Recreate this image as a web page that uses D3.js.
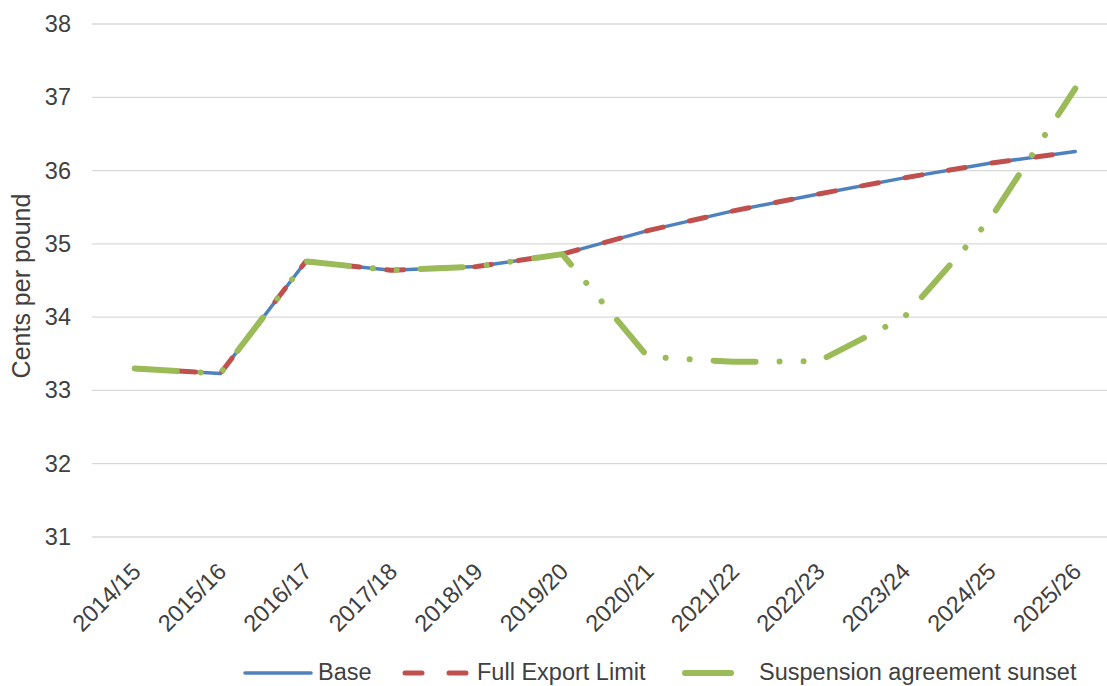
<!DOCTYPE html>
<html>
<head>
<meta charset="utf-8">
<script src="https://cdn.jsdelivr.net/npm/d3@7"></script>
<style>
  html, body { margin: 0; padding: 0; background: #fff; }
  svg text { font-family: "Liberation Sans", Arial, sans-serif; fill: #404040; }
</style>
</head>
<body>
<svg id="chart" width="1107" height="686"></svg>
<script>
// Marketing years on the category axis
const years = ["2014/15", "2015/16", "2016/17", "2017/18", "2018/19", "2019/20",
               "2020/21", "2021/22", "2022/23", "2023/24", "2024/25", "2025/26"];

// Price projections, cents per pound
const baseValues = [33.30, 33.23, 34.76, 34.64, 34.69, 34.86, 35.18, 35.45, 35.68, 35.90, 36.10, 36.26];
const fullExportValues = [33.30, 33.23, 34.76, 34.64, 34.69, 34.86, 35.18, 35.45, 35.68, 35.90, 36.10, 36.26];
const sunsetValues = [33.30, 33.23, 34.76, 34.64, 34.69, 34.86, 33.46, 33.39, 33.40, 34.00, 35.33, 37.12];

const yTicks = [31, 32, 33, 34, 35, 36, 37, 38];

const seriesNames = ["Base", "Full Export Limit", "Suspension agreement sunset"];

const FONT = 23.5;
const svg = d3.select("#chart");

const plot = { left: 92, right: 1118, top: 24, bottom: 537 };

const x = d3.scalePoint().domain(years).range([plot.left, plot.right]).padding(0.5);
const y = d3.scaleLinear().domain([31, 38]).range([plot.bottom, plot.top]);

// Horizontal gridlines
svg.append("g")
  .selectAll("line")
  .data(yTicks)
  .join("line")
  .attr("x1", plot.left).attr("x2", plot.right)
  .attr("y1", d => y(d)).attr("y2", d => y(d))
  .attr("stroke", "#d9d9d9").attr("stroke-width", 1.3);

// Y axis labels
const yAxis = d3.axisLeft(y).tickValues(yTicks).tickSize(0).tickPadding(0).tickFormat(d3.format("d"));
const yg = svg.append("g").attr("transform", `translate(71,0)`).call(yAxis);
yg.select(".domain").remove();
yg.selectAll("text").attr("font-size", FONT).attr("fill", "#404040")
  .style("font-family", "'Liberation Sans', Arial, sans-serif");

// Y axis title
svg.append("text")
  .attr("transform", "translate(30,286) rotate(-90)")
  .attr("text-anchor", "middle")
  .attr("font-size", 25)
  .text("Cents per pound");

// X axis labels, rotated
const xAxis = d3.axisBottom(x).tickSize(0).tickPadding(0);
const xg = svg.append("g").attr("transform", `translate(0,${plot.bottom})`).call(xAxis);
xg.select(".domain").remove();
xg.selectAll("text")
  .attr("font-size", FONT).attr("fill", "#404040")
  .style("font-family", "'Liberation Sans', Arial, sans-serif")
  .attr("text-anchor", "end")
  .attr("dy", null).attr("y", 0)
  .attr("transform", "translate(7,36) rotate(-45)");

const line = d3.line().x((d, i) => x(years[i])).y(d => y(d));

// Base scenario: solid blue
svg.append("path").datum(baseValues)
  .attr("d", line).attr("fill", "none")
  .attr("stroke", "#4F81BD").attr("stroke-width", 3.5)
  .attr("stroke-linejoin", "round").attr("stroke-linecap", "round");

// Full export limit: red dashes
svg.append("path").datum(fullExportValues)
  .attr("d", line).attr("fill", "none")
  .attr("stroke", "#C0504D").attr("stroke-width", 5)
  .attr("stroke-dasharray", "17,27")
  .attr("stroke-linejoin", "round").attr("stroke-linecap", "round");

// Suspension agreement sunset: green long dash-dot-dot
svg.append("path").datum(sunsetValues)
  .attr("d", line).attr("fill", "none")
  .attr("stroke", "#9BBB59").attr("stroke-width", 6)
  .attr("stroke-dasharray", "42,24,0.01,24,0.01,24")
  .attr("stroke-linejoin", "round").attr("stroke-linecap", "round");

// Legend
const legendY = 673;
const legend = [
  { name: seriesNames[0], x1: 245, x2: 311, tx: 318, color: "#4F81BD", w: 3.5, dash: null },
  { name: seriesNames[1], x1: 405, x2: 470, tx: 477, color: "#C0504D", w: 5, dash: "17,27" },
  { name: seriesNames[2], x1: 685, x2: 731, tx: 759, color: "#9BBB59", w: 6, dash: null }
];
const lg = svg.append("g");
legend.forEach(item => {
  lg.append("line")
    .attr("x1", item.x1).attr("x2", item.x2)
    .attr("y1", legendY).attr("y2", legendY)
    .attr("stroke", item.color).attr("stroke-width", item.w)
    .attr("stroke-linecap", "round")
    .attr("stroke-dasharray", item.dash);
  lg.append("text")
    .attr("x", item.tx).attr("y", legendY + 7)
    .attr("font-size", FONT)
    .text(item.name);
});
</script>
</body>
</html>
